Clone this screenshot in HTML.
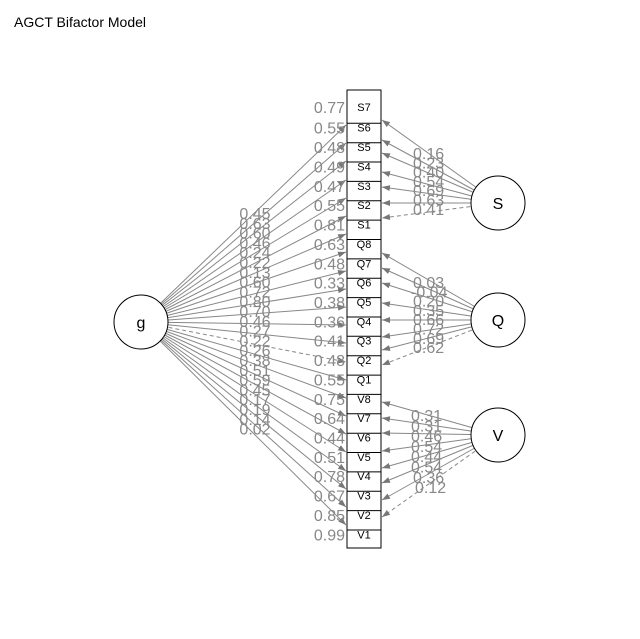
<!DOCTYPE html>
<html><head><meta charset="utf-8"><style>
html,body{margin:0;padding:0;background:#fff;}
svg{display:block;font-family:"Liberation Sans",sans-serif;}
.it{font-size:11px;fill:#000;text-anchor:middle;}
.n{font-size:16px;fill:#888;}
</style></head><body>
<svg width="640" height="639" viewBox="0 0 640 639">
<defs><marker id="a" markerWidth="8" markerHeight="6" refX="8" refY="3" orient="auto" markerUnits="userSpaceOnUse"><path d="M0,0 L8,3 L0,6 Z" fill="#777"/></marker></defs>
<rect width="640" height="639" fill="#fff"/>
<text x="14" y="27" font-size="14" fill="#000">AGCT Bifactor Model</text>
<g stroke="#888" stroke-width="1" fill="none" marker-end="url(#a)">
<line x1="141" y1="322" x2="346" y2="125"/>
<line x1="141" y1="322" x2="346" y2="143"/>
<line x1="141" y1="322" x2="346" y2="161"/>
<line x1="141" y1="322" x2="346" y2="180"/>
<line x1="141" y1="322" x2="346" y2="198"/>
<line x1="141" y1="322" x2="346" y2="216"/>
<line x1="141" y1="322" x2="346" y2="234"/>
<line x1="141" y1="322" x2="346" y2="252"/>
<line x1="141" y1="322" x2="346" y2="271"/>
<line x1="141" y1="322" x2="346" y2="289"/>
<line x1="141" y1="322" x2="346" y2="307"/>
<line x1="141" y1="322" x2="346" y2="325"/>
<line x1="141" y1="322" x2="346" y2="343"/>
<line x1="141" y1="322" x2="346" y2="362" stroke-dasharray="4,3"/>
<line x1="141" y1="322" x2="346" y2="380"/>
<line x1="141" y1="322" x2="346" y2="398"/>
<line x1="141" y1="322" x2="346" y2="416"/>
<line x1="141" y1="322" x2="346" y2="434"/>
<line x1="141" y1="322" x2="346" y2="452"/>
<line x1="141" y1="322" x2="346" y2="471"/>
<line x1="141" y1="322" x2="346" y2="489"/>
<line x1="141" y1="322" x2="346" y2="507"/>
<line x1="141" y1="322" x2="346" y2="525"/>
<line x1="498" y1="203" x2="382" y2="120"/>
<line x1="498" y1="203" x2="382" y2="140"/>
<line x1="498" y1="203" x2="382" y2="153"/>
<line x1="498" y1="203" x2="382" y2="172"/>
<line x1="498" y1="203" x2="382" y2="187"/>
<line x1="498" y1="203" x2="382" y2="203"/>
<line x1="498" y1="203" x2="382" y2="218" stroke-dasharray="4,3"/>
<line x1="498" y1="320" x2="382" y2="253"/>
<line x1="498" y1="320" x2="382" y2="268"/>
<line x1="498" y1="320" x2="382" y2="283"/>
<line x1="498" y1="320" x2="382" y2="303"/>
<line x1="498" y1="320" x2="382" y2="320"/>
<line x1="498" y1="320" x2="382" y2="337"/>
<line x1="498" y1="320" x2="382" y2="350"/>
<line x1="498" y1="320" x2="382" y2="365" stroke-dasharray="4,3"/>
<line x1="498" y1="435" x2="382" y2="402"/>
<line x1="498" y1="435" x2="382" y2="418"/>
<line x1="498" y1="435" x2="382" y2="433"/>
<line x1="498" y1="435" x2="382" y2="451"/>
<line x1="498" y1="435" x2="382" y2="468"/>
<line x1="498" y1="435" x2="382" y2="483"/>
<line x1="498" y1="435" x2="382" y2="500"/>
<line x1="498" y1="435" x2="382" y2="517" stroke-dasharray="4,3"/>
</g>
<g fill="#fff" stroke="#000" stroke-width="1">
<circle cx="141" cy="322" r="27"/>
<circle cx="498" cy="203" r="27"/>
<circle cx="498" cy="320" r="27"/>
<circle cx="498" cy="435" r="27"/>
<rect x="347" y="90" width="34" height="458"/>
</g>
<g stroke="#000" stroke-width="1">
<line x1="347" x2="381" y1="123.3" y2="123.3"/><line x1="347" x2="381" y1="142.7" y2="142.7"/><line x1="347" x2="381" y1="162" y2="162"/><line x1="347" x2="381" y1="181.4" y2="181.4"/><line x1="347" x2="381" y1="200.8" y2="200.8"/><line x1="347" x2="381" y1="220.1" y2="220.1"/><line x1="347" x2="381" y1="239.5" y2="239.5"/><line x1="347" x2="381" y1="258.9" y2="258.9"/><line x1="347" x2="381" y1="278.2" y2="278.2"/><line x1="347" x2="381" y1="297.6" y2="297.6"/><line x1="347" x2="381" y1="317" y2="317"/><line x1="347" x2="381" y1="336.3" y2="336.3"/><line x1="347" x2="381" y1="355.7" y2="355.7"/><line x1="347" x2="381" y1="375.1" y2="375.1"/><line x1="347" x2="381" y1="394.4" y2="394.4"/><line x1="347" x2="381" y1="413.8" y2="413.8"/><line x1="347" x2="381" y1="433.2" y2="433.2"/><line x1="347" x2="381" y1="452.5" y2="452.5"/><line x1="347" x2="381" y1="471.9" y2="471.9"/><line x1="347" x2="381" y1="491.3" y2="491.3"/><line x1="347" x2="381" y1="510.6" y2="510.6"/><line x1="347" x2="381" y1="530" y2="530"/>
</g>
<g font-size="16" fill="#000" text-anchor="middle">
<text x="141" y="328">g</text><text x="498" y="209">S</text><text x="498" y="326">Q</text><text x="498" y="441">V</text>
</g>
<g class="it">
<text x="364" y="111">S7</text><text x="364" y="131.7">S6</text><text x="364" y="151.1">S5</text><text x="364" y="170.4">S4</text><text x="364" y="189.8">S3</text><text x="364" y="209.2">S2</text><text x="364" y="228.5">S1</text><text x="364" y="247.9">Q8</text><text x="364" y="267.3">Q7</text><text x="364" y="286.6">Q6</text><text x="364" y="306">Q5</text><text x="364" y="325.3">Q4</text><text x="364" y="344.7">Q3</text><text x="364" y="364.1">Q2</text><text x="364" y="383.4">Q1</text><text x="364" y="402.8">V8</text><text x="364" y="422.2">V7</text><text x="364" y="441.5">V6</text><text x="364" y="460.9">V5</text><text x="364" y="480.2">V4</text><text x="364" y="499.6">V3</text><text x="364" y="519">V2</text><text x="364" y="538.3">V1</text>
</g>
<g class="n" text-anchor="end">
<text x="345" y="113">0.77</text><text x="345" y="133.7">0.55</text><text x="345" y="153.1">0.48</text><text x="345" y="172.4">0.49</text><text x="345" y="191.8">0.47</text><text x="345" y="211.2">0.55</text><text x="345" y="230.5">0.81</text><text x="345" y="249.9">0.63</text><text x="345" y="269.3">0.48</text><text x="345" y="288.6">0.33</text><text x="345" y="308">0.38</text><text x="345" y="327.3">0.36</text><text x="345" y="346.7">0.41</text><text x="345" y="366.1">0.48</text><text x="345" y="385.4">0.55</text><text x="345" y="404.8">0.75</text><text x="345" y="424.2">0.64</text><text x="345" y="443.5">0.44</text><text x="345" y="462.9">0.51</text><text x="345" y="482.2">0.78</text><text x="345" y="501.6">0.67</text><text x="345" y="521">0.85</text><text x="345" y="540.3">0.99</text>
</g>
<g class="n" text-anchor="middle">
<text x="255" y="219">0.45</text><text x="255" y="228.8">0.63</text><text x="255" y="238.6">0.60</text><text x="255" y="248.4">0.46</text><text x="255" y="258.2">0.24</text><text x="255" y="268">0.22</text><text x="255" y="277.8">0.13</text><text x="255" y="287.6">0.60</text><text x="255" y="297.4">0.72</text><text x="255" y="307.2">0.80</text><text x="255" y="317">0.70</text><text x="255" y="326.8">0.46</text><text x="255" y="336.6">0.27</text><text x="255" y="346.4">0.22</text><text x="255" y="356.2">0.26</text><text x="255" y="366">0.38</text><text x="255" y="375.8">0.51</text><text x="255" y="385.6">0.59</text><text x="255" y="395.4">0.45</text><text x="255" y="405.2">0.17</text><text x="255" y="415">0.19</text><text x="255" y="424.8">0.14</text><text x="255" y="434.6">0.02</text>
</g>
<g class="n" text-anchor="start">
<text x="413" y="159">0.16</text><text x="413" y="168.3">0.23</text><text x="413" y="177.6">0.40</text><text x="413" y="186.9">0.54</text><text x="413" y="196.2">0.69</text><text x="413" y="205.5">0.63</text><text x="413" y="214.8">0.41</text>
<text x="413" y="288">0.03</text><text x="411" y="297.3">-0.04</text><text x="413" y="306.6">0.20</text><text x="413" y="315.9">0.35</text><text x="413" y="325.2">0.66</text><text x="413" y="334.5">0.72</text><text x="413" y="343.8">0.69</text><text x="413" y="353.1">0.62</text>
<text x="411" y="421">0.31</text><text x="411" y="431.3">0.31</text><text x="411" y="441.6">0.46</text><text x="411" y="451.9">0.54</text><text x="411" y="462.2">0.44</text><text x="411" y="472.5">0.54</text><text x="413" y="482.8">0.36</text><text x="415" y="493.1">0.12</text>
</g>
</svg>
</body></html>
